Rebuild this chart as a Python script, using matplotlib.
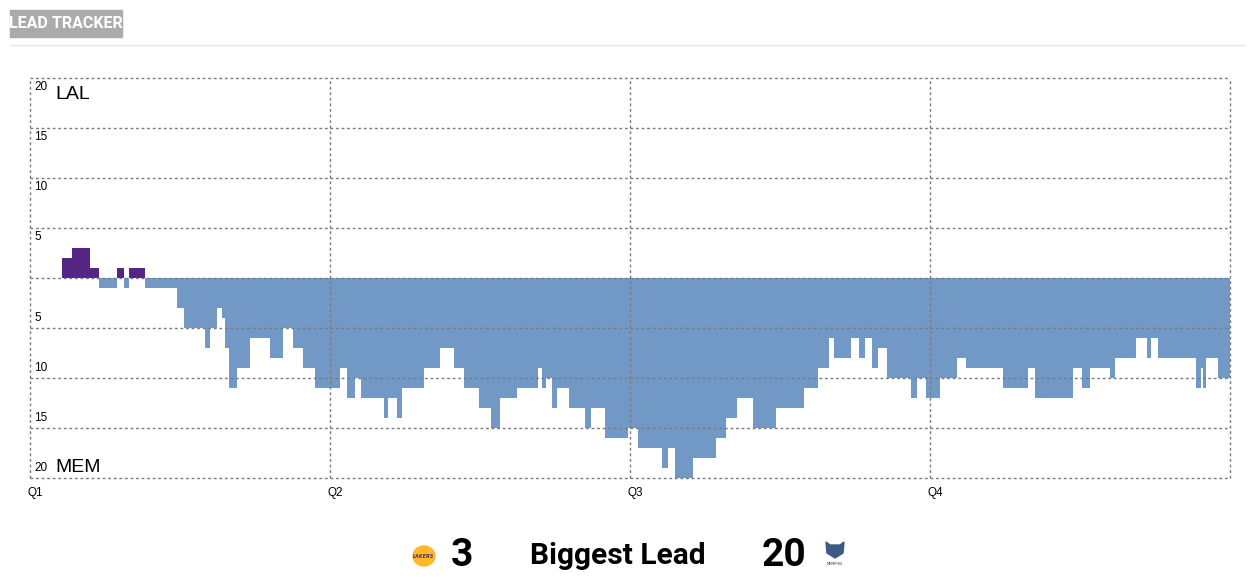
import numpy as np
import matplotlib.pyplot as plt
from matplotlib.patches import Rectangle, Ellipse, Polygon

# game minute where each lead change starts, and the lead from there (+ LAL, - MEM)
change_min = [0.0, 1.27, 1.69, 2.39, 2.76, 3.48, 3.76, 3.96, 4.60, 5.88,
              6.17, 7.00, 7.20, 7.48, 7.68, 7.80, 7.96, 8.28, 8.79, 9.61,
              10.12, 10.53, 10.93, 11.41, 12.40, 12.68, 13.00, 13.24, 14.16, 14.32,
              14.68, 14.88, 15.76, 16.40, 16.96, 17.36, 17.96, 18.44, 18.80, 19.48,
              20.32, 20.48, 20.64, 20.88, 21.08, 21.56, 22.20, 22.44, 23.00, 23.92,
              24.32, 25.28, 25.52, 25.80, 26.52, 27.44, 27.84, 28.28, 28.92, 29.84,
              30.96, 31.52, 31.96, 32.16, 32.84, 33.16, 33.40, 33.68, 33.92, 34.28,
              35.24, 35.48, 35.84, 36.40, 37.08, 37.44, 38.92, 39.92, 40.20, 41.72,
              42.08, 42.40, 43.20, 43.40, 44.24, 44.68, 44.84, 45.12, 46.64, 46.84,
              46.92, 47.04, 47.52]
lead = [0, 2, 3, 1, -1, 1, -1, 1, -1, -3,
        -5, -7, -5, -3, -4, -7, -11, -9, -6, -8,
        -5, -7, -9, -11, -9, -12, -10, -12, -14, -12,
        -14, -11, -9, -7, -9, -11, -13, -15, -12, -11,
        -9, -11, -10, -13, -11, -13, -15, -13, -16, -15,
        -17, -19, -17, -20, -18, -16, -14, -12, -15, -13,
        -11, -9, -6, -8, -6, -8, -6, -9, -7, -10,
        -12, -10, -12, -10, -8, -9, -11, -9, -12, -9,
        -11, -9, -10, -8, -6, -8, -6, -8, -11, -9,
        -11, -8, -10]
game_end = 48.0

quarters = ["Q1", "Q2", "Q3", "Q4"]
quarter_start = [0, 12, 24, 36]
y_ticks = [5, 10, 15, 20]
teams = ["LAL", "MEM"]
biggest_lead = {"LAL": 3, "MEM": 20}

LAL_PURPLE = "#552583"
MEM_BLUE = "#7299c6"
GRID = "#7a7a7a"

fig = plt.figure(figsize=(12.55, 5.85), dpi=100)

# header
fig.patches.append(Rectangle((10 / 1255, 1 - 37 / 585), 112 / 1255, 27 / 585,
                             transform=fig.transFigure, color="#ababab", zorder=0))
fig.text(66 / 1255, 1 - 23.5 / 585, "LEAD TRACKER", ha="center", va="center",
         color="white", fontsize=11.5, fontweight="bold", family="Roboto")
fig.add_artist(plt.Line2D([10 / 1255, 1245 / 1255], [1 - 45 / 585] * 2,
                          transform=fig.transFigure, color="#e6e6e6", lw=1))

ax = fig.add_axes([30 / 1255, 107 / 585, 1200 / 1255, 400 / 585])
t = np.array(change_min + [game_end])
v = np.array(lead + [lead[-1]])
ax.fill_between(t, 0, np.maximum(v, 0), step="post", color=LAL_PURPLE, lw=0, zorder=1)
ax.fill_between(t, 0, np.minimum(v, 0), step="post", color=MEM_BLUE, lw=0, zorder=1)

ax.set_xlim(0, 48)
ax.set_ylim(-20, 20)
ax.axis("off")
for y in range(-20, 21, 5):
    ax.axhline(y, color=GRID, lw=1, ls=(0, (2, 2)), zorder=3, clip_on=False)
for x in quarter_start + [48]:
    ax.axvline(x, color=GRID, lw=1, ls=(0, (2, 2)), zorder=3, clip_on=False)

num_font = dict(family="Liberation Sans", fontsize=8.5, color="black")
for yv in y_ticks:
    ax.text(0.16, yv - 0.9, str(yv), va="center", ha="left", **num_font)
    ax.text(0.16, -yv + 1.0, str(yv), va="center", ha="left", **num_font)
ax.text(1.02, 18.35, teams[0], va="center", ha="left", fontsize=14,
        family="Liberation Sans")
ax.text(1.02, -19.0, teams[1], va="center", ha="left", fontsize=14,
        family="Liberation Sans")
for q, qs in zip(quarters, quarter_start):
    ax.text(qs - 0.08, -21.5, q, va="center", ha="left", clip_on=False, **num_font)

# footer: biggest lead
fy = 1 - 556 / 585
fig.patches.append(Ellipse((424 / 1255, fy), 22 / 1255, 20 / 585,
                           transform=fig.transFigure, color="#fdb927"))
fig.text(424 / 1255, fy, "LAKERS", ha="center", va="center", fontsize=3.5,
         color=LAL_PURPLE, fontweight="bold", style="italic")
fig.text(462 / 1255, fy, str(biggest_lead["LAL"]), ha="center", va="center",
         fontsize=28, fontweight="bold", family="Roboto")
fig.text(618 / 1255, fy, "Biggest Lead", ha="center", va="center",
         fontsize=21.5, fontweight="bold", family="Roboto")
fig.text(784 / 1255, fy, str(biggest_lead["MEM"]), ha="center", va="center",
         fontsize=28, fontweight="bold", family="Roboto")
bx, by = 835, 549
pts = [(bx - 9, by - 7), (bx - 5, by - 4), (bx + 5, by - 4), (bx + 9, by - 7),
       (bx + 8, by + 4), (bx, by + 9), (bx - 8, by + 4)]
fig.patches.append(Polygon([(px / 1255, 1 - py / 585) for px, py in pts],
                           closed=True, transform=fig.transFigure, color="#3d5a85"))
fig.text(835 / 1255, 1 - 564 / 585, "MEMPHIS", ha="center", va="center",
         fontsize=2.5, color="#333333")

fig.savefig("out.png", dpi=100)
